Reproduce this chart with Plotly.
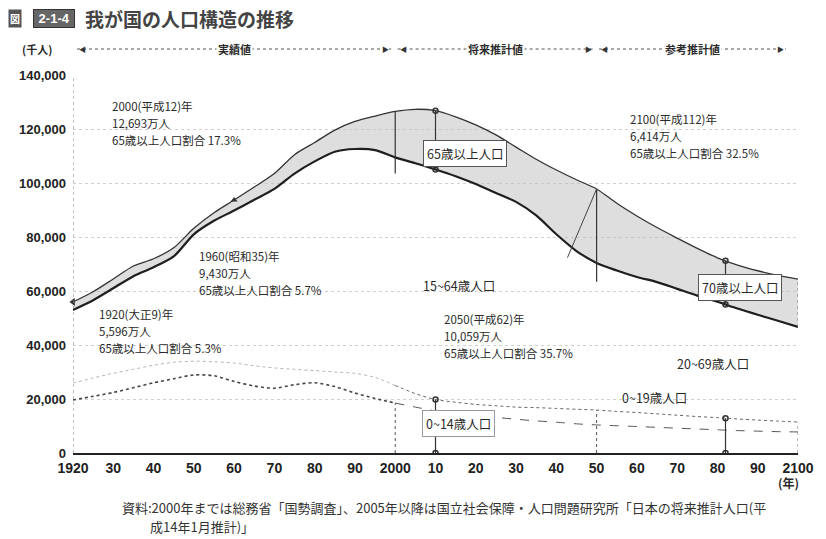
import plotly.graph_objects as go
import numpy as np

# ---------------- data (千人) ----------------
years = list(range(1920, 2101, 5))
total = [55963, 59737, 64450, 69254, 71933, 76000, 83200, 89000, 93700, 98500,
         103500, 110500, 115000, 119600, 122800, 124800, 126500, 127300, 126800, 124500,
         121500, 117800, 113300, 108800, 104800, 101200, 97800, 92500, 87800, 83500,
         79600, 75800, 72300, 69600, 67500, 65800, 64400]
lower = [53000, 56600, 61000, 65500, 68800, 72800, 81000, 86000, 89800, 93800,
         97800, 103500, 108000, 111600, 112600, 112200, 109500, 107300, 105000, 102500,
         99600, 96300, 93000, 88000, 81000, 74800, 70400, 67600, 65200, 63300,
         60800, 58300, 56000, 53500, 51200, 49000, 46700]
age0_14 = [19600, 21000, 22400, 24200, 26000, 27500, 28900, 28600, 26500, 24800,
           24000, 25300, 26000, 24600, 22200, 20200, 18500, 17000, 15600, 14700,
           14000, 13200, 12500, 11900, 11400, 10800, 10400, 10100, 9800, 9500,
           9200, 8900, 8600, 8300, 8100, 7900, 7800]
age0_19 = [25900, 27800, 29500, 31000, 32500, 33600, 34000, 33800, 33300, 32300,
           31500, 31000, 30500, 30000, 29500, 28000, 25000, 22000, 19800, 18800,
           18000, 17500, 17000, 16800, 16500, 16200, 15900, 15400, 15000, 14500,
           14000, 13500, 13100, 12600, 12200, 11800, 11500]

x_tickvals = list(range(1920, 2101, 10))
x_ticktext = ["1920", "30", "40", "50", "60", "70", "80", "90", "2000", "10",
              "20", "30", "40", "50", "60", "70", "80", "90", "2100"]
y_tickvals = [0, 20000, 40000, 60000, 80000, 100000, 120000, 140000]

period_labels = ["実績値", "将来推計値", "参考推計値"]
period_bounds = [1921, 1999, 2000.6, 2049.4, 2050.6, 2097]

notes = [
    (["2000(平成12)年", "12,693万人", "65歳以上人口割合 17.3%"], 110, 106),
    (["1960(昭和35)年", "9,430万人", "65歳以上人口割合 5.7%"], 197, 256),
    (["1920(大正9)年", "5,596万人", "65歳以上人口割合 5.3%"], 97, 314),
    (["2050(平成62)年", "10,059万人", "65歳以上人口割合 35.7%"], 443, 319),
    (["2100(平成112)年", "6,414万人", "65歳以上人口割合 32.5%"], 630, 119),
]
group_labels = [("15~64歳人口", 422, 285), ("20~69歳人口", 677, 363), ("0~19歳人口", 622, 397)]
boxed_labels = [("65歳以上人口", 466, 153), ("70歳以上人口", 742, 287), ("0~14歳人口", 460, 423)]

source_lines = ["資料:2000年までは総務省「国勢調査」、2005年以降は国立社会保障・人口問題研究所「日本の将来推計人口(平",
                "成14年1月推計)」"]

# ---------------- layout geometry ----------------
L, R, T, B = 73, 26, 75, 86
W, H = 826, 539
PW, PH = W - L - R, H - T - B


def px(xp):
    return (xp - L) / PW


def py(yp):
    return (H - B - yp) / PH


FONT = "Noto Sans CJK JP"
INK = "#2a2a2a"
LINE_H = 17

fig = go.Figure()

# band between under-65/70 line and total
fig.add_trace(go.Scatter(x=years, y=lower, mode="lines",
                         line=dict(color="#1e1e1e", width=2.2, shape="spline", smoothing=0.8),
                         hoverinfo="skip", showlegend=False))
fig.add_trace(go.Scatter(x=years, y=total, mode="lines",
                         line=dict(color="#333333", width=1.3, shape="spline", smoothing=0.8),
                         fill="tonexty", fillcolor="rgba(190,190,190,0.5)",
                         hoverinfo="skip", showlegend=False))

# 0-19 line (faint in actual period, dotted in projection)
i2000 = years.index(2000)
fig.add_trace(go.Scatter(x=years[:i2000 + 1], y=age0_19[:i2000 + 1], mode="lines",
                         line=dict(color="#b5b5b5", width=1, dash="dot", shape="spline", smoothing=0.8),
                         hoverinfo="skip", showlegend=False))
fig.add_trace(go.Scatter(x=years[i2000:], y=age0_19[i2000:], mode="lines",
                         line=dict(color="#666666", width=1, dash="dot", shape="spline", smoothing=0.8),
                         hoverinfo="skip", showlegend=False))
# 0-14 line
fig.add_trace(go.Scatter(x=years[:i2000 + 1], y=age0_14[:i2000 + 1], mode="lines",
                         line=dict(color="#444444", width=1.6, dash="dot", shape="spline", smoothing=0.8),
                         hoverinfo="skip", showlegend=False))
fig.add_trace(go.Scatter(x=years[i2000:], y=age0_14[i2000:], mode="lines",
                         line=dict(color="#555555", width=1, dash="dash", shape="spline", smoothing=0.8),
                         hoverinfo="skip", showlegend=False))


def val(arr, yr):
    return float(np.interp(yr, years, arr))


# vertical period lines
for yr, drop, base in [(2000, 6000, age0_14), (2050, 7000, age0_19)]:
    fig.add_shape(type="line", x0=yr, x1=yr, y0=val(total, yr), y1=val(lower, yr) - drop,
                  line=dict(color="#333", width=1.2))
    fig.add_shape(type="line", x0=yr, x1=yr, y0=0, y1=val(base, yr),
                  line=dict(color="#555", width=1, dash="dot"))
fig.add_shape(type="line", x0=2100, x1=2100, y0=val(lower, 2100), y1=val(total, 2100),
              line=dict(color="#777", width=1, dash="dot"))
fig.add_shape(type="line", x0=2100, x1=2100, y0=0, y1=val(age0_19, 2100),
              line=dict(color="#777", width=1, dash="dot"))
# left axis (dotted)
fig.add_shape(type="line", x0=1920, x1=1920, y0=0, y1=140000,
              line=dict(color="#888", width=1, dash="dot"))

# measure indicators
for yr in (2010, 2082):
    fig.add_trace(go.Scatter(x=[yr, yr], y=[val(total, yr), val(lower, yr)], mode="lines+markers",
                             line=dict(color="#333", width=1.2),
                             marker=dict(symbol="circle-open", size=5, color="#333", line=dict(width=1.5)),
                             hoverinfo="skip", showlegend=False))
    fig.add_trace(go.Scatter(x=[yr, yr], y=[0, val(age0_19, yr)], mode="lines+markers",
                             line=dict(color="#333", width=1.2),
                             marker=dict(symbol="circle-open", size=5, color="#333", line=dict(width=1.5)),
                             hoverinfo="skip", showlegend=False))

# callout points
fig.add_trace(go.Scatter(x=[1960], y=[val(total, 1960)], mode="markers",
                         marker=dict(symbol="triangle-up", size=6, color="#333"),
                         hoverinfo="skip", showlegend=False))
fig.add_trace(go.Scatter(x=[1920], y=[val(total, 1920)], mode="markers",
                         marker=dict(symbol="triangle-left", size=7, color="#333"),
                         hoverinfo="skip", showlegend=False, cliponaxis=False))
fig.add_annotation(x=2050, y=val(total, 2050), ax=2042.6, ay=val(lower, 2042.6) - 6000,
                   xref="x", yref="y", axref="x", ayref="y", text="", showarrow=True,
                   arrowhead=0, arrowwidth=1, arrowcolor="#444")

annotations = []
# text notes (one annotation per line)
for lines, xp, yp in notes:
    for j, ln in enumerate(lines):
        annotations.append(dict(text=ln, x=px(xp), y=py(yp + j * LINE_H), xref="paper", yref="paper",
                                xanchor="left", yanchor="middle", showarrow=False, align="left",
                                font=dict(family=FONT, size=11.5, color=INK)))
for txt, xp, yp in group_labels:
    annotations.append(dict(text=txt, x=px(xp), y=py(yp), xref="paper", yref="paper",
                            xanchor="left", yanchor="middle", showarrow=False,
                            font=dict(family=FONT, size=12.5, color=INK)))
for i, (txt, xp, yp) in enumerate(boxed_labels):
    annotations.append(dict(text=txt, x=px(xp), y=py(yp), xref="paper", yref="paper",
                            xanchor="center", yanchor="middle", showarrow=False,
                            bgcolor="white", bordercolor="#999" if i == 2 else "#555",
                            borderwidth=1, borderpad=3,
                            font=dict(family=FONT, size=12.5, color=INK)))

# header bar
hy = py(49)
for k, lab in enumerate(period_labels):
    x0, x1 = period_bounds[2 * k], period_bounds[2 * k + 1]
    fig.add_shape(type="line", x0=x0, x1=x1, y0=hy, y1=hy, xref="x", yref="paper",
                  line=dict(color="#555", width=1, dash="dot"))
    annotations.append(dict(text="<b>%s</b>" % lab, x=(x0 + x1) / 2, y=hy, xref="x", yref="paper",
                            xanchor="center", yanchor="middle", showarrow=False, bgcolor="white",
                            font=dict(family=FONT, size=11, color=INK)))
    annotations.append(dict(text="◀", x=x0, y=hy, xref="x", yref="paper", xanchor="left",
                            yanchor="middle", showarrow=False, font=dict(family=FONT, size=7, color="#333")))
    annotations.append(dict(text="▶", x=x1, y=hy, xref="x", yref="paper", xanchor="right",
                            yanchor="middle", showarrow=False, font=dict(family=FONT, size=7, color="#333")))

annotations.append(dict(text="<b>(千人)</b>", x=px(20), y=hy, xref="paper", yref="paper",
                        xanchor="left", yanchor="middle", showarrow=False,
                        font=dict(family=FONT, size=11, color=INK)))
annotations.append(dict(text="<b>(年)</b>", x=px(803), y=py(482), xref="paper", yref="paper",
                        xanchor="right", yanchor="middle", showarrow=False,
                        font=dict(family=FONT, size=12, color=INK)))

# title
annotations.append(dict(text="<b>図</b>", x=px(15), y=py(18), xref="paper", yref="paper",
                        xanchor="center", yanchor="middle", showarrow=False, bgcolor="#555",
                        borderpad=1, font=dict(family=FONT, size=10, color="white")))
annotations.append(dict(text="<b> 2-1-4 </b>", x=px(54), y=py(18), xref="paper", yref="paper",
                        xanchor="center", yanchor="middle", showarrow=False, bgcolor="#666",
                        bordercolor="#333", borderwidth=1, borderpad=1,
                        font=dict(family="Liberation Sans", size=13, color="white")))
annotations.append(dict(text="<b>我が国の人口構造の推移</b>", x=px(83), y=py(18), xref="paper", yref="paper",
                        xanchor="left", yanchor="middle", showarrow=False,
                        font=dict(family=FONT, size=19, color="#444")))

# source
for j, (ln, xp) in enumerate(zip(source_lines, [120, 148])):
    annotations.append(dict(text=ln, x=px(xp), y=py(507 + j * 19), xref="paper", yref="paper",
                            xanchor="left", yanchor="middle", showarrow=False, align="left",
                            font=dict(family=FONT, size=13, color="#333")))

fig.update_layout(
    width=W, height=H,
    margin=dict(l=L, r=R, t=T, b=B),
    paper_bgcolor="white", plot_bgcolor="white",
    font=dict(family=FONT, color=INK),
    showlegend=False,
    annotations=list(fig.layout.annotations) + annotations,
    xaxis=dict(range=[1920, 2100], tickvals=x_tickvals, ticktext=x_ticktext,
               tickfont=dict(family="Liberation Sans", size=14, color="#222", weight="bold"),
               showgrid=False, zeroline=False, showline=True, linecolor="#222", linewidth=1.5,
               ticks="", ticklen=0, ticklabelstandoff=1),
    yaxis=dict(range=[0, 140000], tickvals=y_tickvals, tickformat=",",
               tickfont=dict(family="Liberation Sans", size=13, color="#222", weight="bold"),
               showgrid=True, gridcolor="#d0d0d0", griddash="dot", gridwidth=1,
               zeroline=False, showline=False, ticks="", ticklen=0, ticklabelstandoff=6),
)

fig.write_html("out.html", config={"displayModeBar": False},
               post_script="document.body.style.margin='0';document.body.style.padding='0';")
